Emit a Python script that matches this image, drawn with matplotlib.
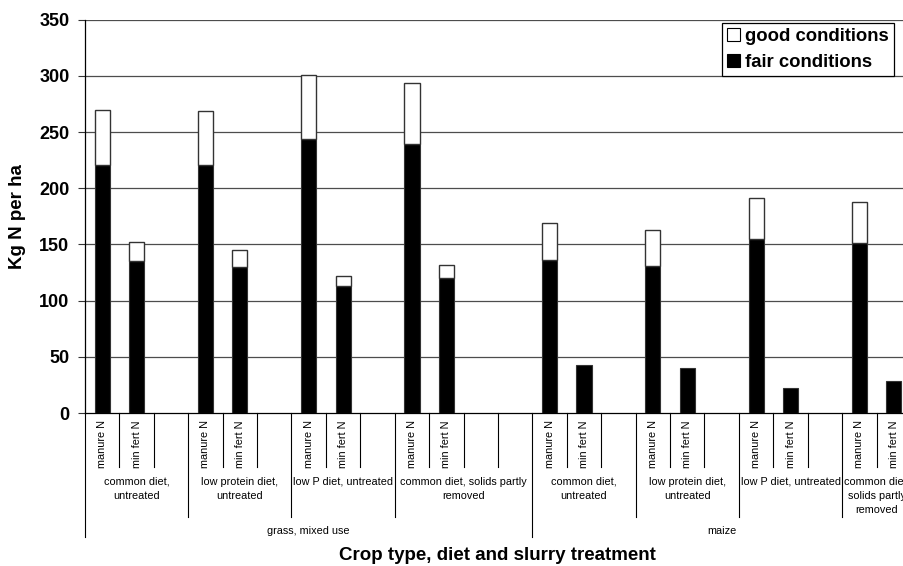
import numpy as np
import matplotlib
matplotlib.use("Agg")
import matplotlib.pyplot as plt
from matplotlib.patches import Patch

plt.rcParams['font.family'] = ['Liberation Sans', 'DejaVu Sans']

# ---------------- data ----------------
crops = ["grass, mixed use", "maize"]
groups = ["common diet,\nuntreated", "low protein diet,\nuntreated", "low P diet, untreated",
          "common diet, solids partly\nremoved",
          "common diet,\nuntreated", "low protein diet,\nuntreated", "low P diet, untreated",
          "common diet,\nsolids partly\nremoved"]
group_crop = [0, 0, 0, 0, 1, 1, 1, 1]
group_slots = [3, 3, 3, 4, 3, 3, 3, 2]
slot_labels = ["manure N", "min fert N", "",
               "manure N", "min fert N", "",
               "manure N", "min fert N", "",
               "manure N", "min fert N", "", "",
               "manure N", "min fert N", "",
               "manure N", "min fert N", "",
               "manure N", "min fert N", "",
               "manure N", "min fert N"]
fair = [221, 135, np.nan,
        220.5, 130, np.nan,
        244, 113, np.nan,
        239, 120.5, np.nan, np.nan,
        136.5, 43, np.nan,
        131, 40, np.nan,
        154.5, 22, np.nan,
        151.5, 28.5]
good = [270, 152, np.nan,
        269, 145, np.nan,
        301, 122, np.nan,
        294, 132, np.nan, np.nan,
        169, 43, np.nan,
        163, 40, np.nan,
        191, 22, np.nan,
        188, 28.5]
yticks = [0, 50, 100, 150, 200, 250, 300, 350]

# ---------------- figure ----------------
FW, FH = 904, 566
fig = plt.figure(figsize=(FW / 100, FH / 100), dpi=100)
ax_left, ax_right, ax_top, ax_bot = 85, 911, 19.7, 413
ax = fig.add_axes([ax_left / FW, (FH - ax_bot) / FH, (ax_right - ax_left) / FW, (ax_bot - ax_top) / FH])

n = len(slot_labels)
x = np.arange(n) + 0.5
fair_a = np.array(fair, dtype=float)
good_a = np.array(good, dtype=float)
bw = 0.44
edge = '#333333'
ax.bar(x, fair_a, width=bw, color='black', edgecolor=edge, linewidth=0.8, zorder=3)
diff = good_a - fair_a
mask = diff > 0
ax.bar(x[mask], diff[mask], bottom=fair_a[mask], width=bw, color='white',
       edgecolor=edge, linewidth=1.0, zorder=3)

ax.set_xlim(0, n)
ax.set_ylim(0, 350)
ax.set_yticks(yticks)
ax.set_yticklabels([str(v) for v in yticks], fontsize=13, fontweight='bold')
ax.tick_params(axis='y', direction='out', length=5.2, width=0.8, pad=6, color='#333333')
ax.set_xticks([])
for v in yticks[1:]:
    ax.axhline(v, color='#4d4d4d', linewidth=0.9, zorder=1)
for s in ['top', 'right']:
    ax.spines[s].set_visible(False)
ax.spines['left'].set_linewidth(0.9)
ax.spines['bottom'].set_linewidth(0.9)

# hierarchical category axis
ph = ax_bot - ax_top
def ay(px):
    return -(px - ax_bot) / ph

tr = ax.get_xaxis_transform()
d_slot, d_group, d_crop = ay(467.3), ay(516.7), ay(536.7)

group_starts = np.concatenate([[0], np.cumsum(group_slots)])
crop_bounds = [0]
for gi in range(len(groups)):
    if gi == len(groups) - 1 or group_crop[gi + 1] != group_crop[gi]:
        crop_bounds.append(group_starts[gi + 1])

for b in range(n + 1):
    if b in crop_bounds:
        d = d_crop
    elif b in group_starts:
        d = d_group
    else:
        d = d_slot
    ax.plot([b, b], [0, d], transform=tr, color='black', linewidth=0.8, clip_on=False)

for i, lab in enumerate(slot_labels):
    if lab:
        ax.text(x[i], ay(420.5), lab, transform=tr, rotation=90, ha='center', va='top',
                fontsize=7.8)

for gi, g in enumerate(groups):
    c = (group_starts[gi] + group_starts[gi + 1]) / 2
    ax.text(c, ay(477), g, transform=tr, ha='center', va='top', fontsize=7.8,
            linespacing=1.5)

for ci, cname in enumerate(crops):
    c = (crop_bounds[ci] + crop_bounds[ci + 1]) / 2
    ax.text(c, ay(530.5), cname, transform=tr, ha='center', va='center', fontsize=7.8)

fig.text(17.8 / FW, 1 - 216.5 / FH, "Kg N per ha", rotation=90, ha='center', va='center',
         fontsize=13.5, fontweight='bold')
fig.text(497.5 / FW, 1 - 555 / FH, "Crop type, diet and slurry treatment", ha='center',
         va='center', fontsize=13.5, fontweight='bold')

handles = [Patch(facecolor='white', edgecolor='black', linewidth=0.8),
           Patch(facecolor='black', edgecolor='black', linewidth=0.8)]
leg = fig.legend(handles, ["good conditions", "fair conditions"], loc='upper right',
                 bbox_to_anchor=(894 / FW, 1 - 22.7 / FH), bbox_transform=fig.transFigure,
                 borderaxespad=0, fancybox=False, shadow=False, framealpha=1,
                 edgecolor='black', prop={'weight': 'bold', 'size': 13.3},
                 handlelength=0.7, handleheight=0.7, handletextpad=0.25,
                 labelspacing=0.45, borderpad=0.3)
leg.get_frame().set_linewidth(0.9)

fig.savefig("out.png", dpi=100)
